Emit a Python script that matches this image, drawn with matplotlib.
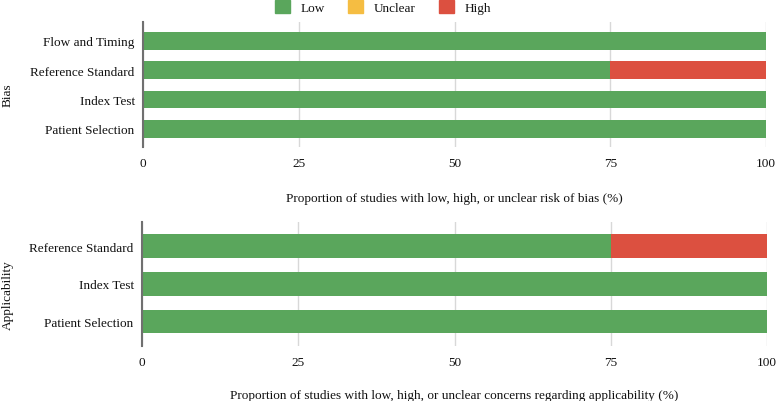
import matplotlib
matplotlib.use("Agg")
import matplotlib.pyplot as plt
from matplotlib.patches import Patch

plt.rcParams['font.family'] = ['Liberation Serif', 'DejaVu Serif']
plt.rcParams['font.size'] = 9.5

# data (percent of studies)
bias_domains = ["Patient Selection", "Index Test", "Reference Standard", "Flow and Timing"]
bias_low = [100, 100, 75, 100]
bias_unclear = [0, 0, 0, 0]
bias_high = [0, 0, 25, 0]

appl_domains = ["Patient Selection", "Index Test", "Reference Standard"]
appl_low = [100, 100, 75]
appl_unclear = [0, 0, 0]
appl_high = [0, 0, 25]

ticks = [0, 25, 50, 75, 100]
green = "#5aa65c"
yellow = "#f5bd42"
red = "#dc5040"
txt = "#111111"

fig = plt.figure(figsize=(7.78, 4.02), dpi=100)
ax1 = fig.add_axes([143 / 778, 1 - 148 / 402, 623 / 778, 125 / 402])
ax2 = fig.add_axes([142 / 778, 1 - 347 / 402, 625 / 778, 124 / 402])


def draw(ax, domains, low, unclear, high, ylim, height, xlabel, lpad):
    y = range(len(domains))
    left_u = low
    left_h = [a + b for a, b in zip(low, unclear)]
    ax.barh(y, low, height=height, color=green, zorder=2)
    ax.barh(y, unclear, left=left_u, height=height, color=yellow, zorder=2)
    ax.barh(y, high, left=left_h, height=height, color=red, zorder=2)
    ax.set_yticks(list(y))
    ax.set_yticklabels(domains)
    ax.set_xticks(ticks)
    ax.set_xlim(0, 100)
    ax.set_ylim(*ylim)
    ax.grid(axis='x', color='#d8d8d8', linewidth=1, zorder=0)
    for s in ['top', 'right', 'bottom']:
        ax.spines[s].set_visible(False)
    ax.spines['left'].set_color('#707070')
    ax.spines['left'].set_linewidth(1.5)
    ax.spines['left'].set_zorder(3)
    ax.tick_params(axis='both', length=0, colors=txt)
    ax.tick_params(axis='x', pad=7)
    ax.tick_params(axis='y', pad=6)
    ax.set_xlabel(xlabel, labelpad=lpad, color=txt)


draw(ax1, bias_domains, bias_low, bias_unclear, bias_high, (-0.62, 3.64), 0.61,
     "Proportion of studies with low, high, or unclear risk of bias (%)", 17)
draw(ax2, appl_domains, appl_low, appl_unclear, appl_high, (-0.65, 2.64), 0.63,
     "Proportion of studies with low, high, or unclear concerns regarding applicability (%)", 15)

fig.text(8 / 778, 1 - 95 / 402, "Bias", rotation=90, ha='center', va='center', color=txt)
fig.text(8 / 778, 1 - 295 / 402, "Applicability", rotation=90, ha='center', va='center', color=txt)

handles = [Patch(color=green, label="Low"), Patch(color=yellow, label="Unclear"),
           Patch(color=red, label="High")]
fig.legend(handles=handles, loc='center', bbox_to_anchor=(383 / 778, 1 - 8 / 402), ncol=3,
           frameon=False, handlelength=1.1, handleheight=1.1, columnspacing=1.8,
           handletextpad=0.8, borderpad=0, labelcolor=txt)

fig.savefig("out.png", dpi=100)
